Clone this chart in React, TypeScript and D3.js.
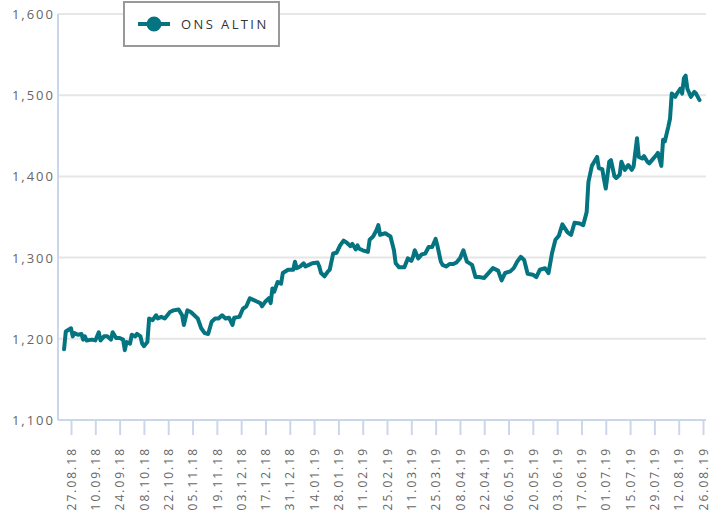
import { useEffect, useRef } from "react";
import * as d3 from "d3";

// Day offsets from 27.08.18 and the gold price
const START = new Date(2018, 7, 27);

const DAYS = [
  -4, -3, 0, 1, 2, 4, 6, 7, 8, 9,
  12, 14, 16, 17, 19, 21, 23, 24, 26, 28,
  30, 31, 32, 34, 35, 37, 38, 40, 41, 42,
  44, 45, 47, 49, 50, 52, 54, 57, 59, 62,
  64, 65, 67, 69, 71, 73, 75, 77, 79, 81,
  83, 85, 87, 89, 91, 93, 94, 97, 99, 101,
  103, 105, 107, 109, 110, 112, 114, 115, 116, 117,
  119, 121, 122, 125, 128, 129, 130, 132, 134, 135,
  137, 139, 142, 143, 144, 146, 148, 149, 151, 153,
  155, 157, 159, 161, 162, 164, 165, 166, 168, 171,
  172, 174, 176, 177, 178, 181, 184, 186, 187, 189,
  192, 194, 196, 197, 198, 200, 202, 204, 206, 208,
  210, 211, 213, 214, 216, 218, 220, 222, 224, 226,
  228, 231, 233, 235, 238, 243, 246, 248, 250, 253,
  255, 257, 259, 261, 263, 266, 268, 270, 273, 275,
  277, 279, 281, 283, 286, 288, 290, 293, 295, 297,
  298, 300, 303, 304, 306, 307, 308, 310, 311, 313,
  314, 316, 317, 319, 321, 323, 324, 326, 327, 329,
  330, 332, 333, 335, 337, 338, 340, 341, 342, 344,
  345, 346, 348, 349, 351, 352, 353, 354, 355, 357,
  359, 360, 362,
];

const PRICES = [
  1187, 1209, 1213, 1203, 1207, 1205, 1206, 1199, 1203, 1198,
  1199, 1198, 1208, 1198, 1203, 1203, 1199, 1208, 1201, 1201,
  1199, 1186, 1196, 1194, 1205, 1203, 1206, 1203, 1194, 1191,
  1196, 1225, 1223, 1229, 1225, 1227, 1225, 1233, 1235, 1236,
  1229, 1217, 1235, 1233, 1229, 1225, 1213, 1207, 1206, 1221,
  1225, 1225, 1229, 1225, 1226, 1217, 1226, 1227, 1237, 1240,
  1250, 1248, 1246, 1244, 1240, 1246, 1250, 1244, 1262, 1258,
  1270, 1268, 1281, 1285, 1285, 1295, 1287, 1289, 1293, 1289,
  1291, 1293, 1294, 1289, 1281, 1277, 1283, 1285, 1305, 1306,
  1315, 1321, 1318, 1314, 1317, 1310, 1315, 1311, 1309, 1307,
  1322, 1326, 1334, 1340, 1328, 1330, 1326, 1309, 1293, 1288,
  1288, 1299, 1296, 1301, 1309, 1299, 1304, 1305, 1313, 1313,
  1323, 1315, 1295, 1291, 1289, 1292, 1292, 1294, 1299, 1309,
  1295, 1291, 1276, 1276, 1275, 1287, 1284, 1272, 1281, 1283,
  1287, 1295, 1301, 1297, 1280, 1279, 1276, 1285, 1287, 1281,
  1305, 1322, 1327, 1341, 1331, 1328, 1343, 1342, 1340, 1356,
  1393, 1413, 1424, 1410, 1409, 1396, 1385, 1418, 1420, 1400,
  1398, 1402, 1418, 1408, 1414, 1408, 1412, 1447, 1424, 1422,
  1425, 1418, 1416, 1421, 1426, 1429, 1413, 1445, 1443, 1461,
  1471, 1502, 1498, 1502, 1508, 1502, 1521, 1524, 1508, 1498,
  1504, 1502, 1494,
];

const X_TICK_LABELS = [
  "27.08.18", "10.09.18", "24.09.18", "08.10.18", "22.10.18", "05.11.18",
  "19.11.18", "03.12.18", "17.12.18", "31.12.18", "14.01.19", "28.01.19",
  "11.02.19", "25.02.19", "11.03.19", "25.03.19", "08.04.19", "22.04.19",
  "06.05.19", "20.05.19", "03.06.19", "17.06.19", "01.07.19", "15.07.19",
  "29.07.19", "12.08.19", "26.08.19",
];

const Y_TICKS = [1100, 1200, 1300, 1400, 1500, 1600];

const SERIES_NAME = "ONS ALTIN";
const LINE_COLOR = "#047481";
const FONT = "'Open Sans', 'DejaVu Sans', sans-serif";

export default function App() {
  const svgRef = useRef<SVGSVGElement | null>(null);

  useEffect(() => {
    const width = 726;
    const height = 522;
    const plotLeft = 58;
    const plotRight = 706;

    const parse = d3.timeParse("%d.%m.%y");
    const tickDates = X_TICK_LABELS.map((s) => parse(s) as Date);
    const data = DAYS.map((d, i) => ({
      date: d3.timeDay.offset(START, d),
      value: PRICES[i],
    }));

    const svg = d3.select(svgRef.current);
    svg.selectAll("*").remove();
    svg.attr("width", width).attr("height", height);

    // ----- Scales -----
    const xScale = d3.scaleTime()
      .domain([tickDates[0], tickDates[tickDates.length - 1]])
      .range([71, 703]);

    const yScale = d3.scaleLinear()
      .domain([1100, 1600])
      .range([420, 14]);

    // ----- Grid lines -----
    svg.append("g")
      .selectAll("line")
      .data(Y_TICKS.slice(1))
      .join("line")
      .attr("x1", plotLeft).attr("x2", plotRight)
      .attr("y1", (d) => yScale(d)).attr("y2", (d) => yScale(d))
      .attr("stroke", "#e6e6e6")
      .attr("stroke-width", 2);

    // ----- Y axis -----
    svg.append("line")
      .attr("x1", plotLeft).attr("x2", plotLeft)
      .attr("y1", yScale(1600)).attr("y2", yScale(1100))
      .attr("stroke", "#ccd6eb")
      .attr("stroke-width", 2);

    svg.append("g")
      .selectAll("text")
      .data(Y_TICKS)
      .join("text")
      .attr("x", 55)
      .attr("y", (d) => yScale(d) + 5)
      .attr("text-anchor", "end")
      .attr("font-family", FONT)
      .attr("font-size", "13px")
      .attr("letter-spacing", "2px")
      .attr("fill", "#666666")
      .text((d) => d3.format(",")(d));

    // ----- X axis -----
    const xAxis = d3.axisBottom(xScale)
      .tickValues(tickDates)
      .tickSize(15)
      .tickSizeOuter(0)
      .tickFormat((d) => d3.timeFormat("%d.%m.%y")(d as Date));

    const xAxisG = svg.append("g")
      .attr("transform", `translate(0,${yScale(1100)})`)
      .call(xAxis);
    xAxisG.select(".domain").remove();
    xAxisG.selectAll(".tick line")
      .attr("stroke", "#ccd6eb")
      .attr("stroke-width", 2);
    xAxisG.selectAll(".tick text")
      .attr("transform", "rotate(-90)")
      .attr("text-anchor", "end")
      .attr("x", -27)
      .attr("y", 0)
      .attr("dy", "0.35em")
      .attr("font-family", FONT)
      .attr("font-size", "12px")
      .attr("letter-spacing", "2px")
      .attr("fill", "#666666");

    svg.append("line")
      .attr("x1", plotLeft).attr("x2", plotRight)
      .attr("y1", yScale(1100)).attr("y2", yScale(1100))
      .attr("stroke", "#ccd6eb")
      .attr("stroke-width", 2);

    // ----- Price line -----
    const lineGen = d3.line<{ date: Date; value: number }>()
      .x((d) => xScale(d.date))
      .y((d) => yScale(d.value));

    svg.append("path")
      .datum(data)
      .attr("fill", "none")
      .attr("stroke", LINE_COLOR)
      .attr("stroke-width", 4)
      .attr("stroke-linejoin", "round")
      .attr("stroke-linecap", "round")
      .attr("d", lineGen);

    // ----- Legend -----
    const legend = svg.append("g").attr("transform", "translate(124,2)");
    legend.append("rect")
      .attr("width", 155).attr("height", 44)
      .attr("fill", "#ffffff")
      .attr("stroke", "#999999")
      .attr("stroke-width", 2);
    legend.append("line")
      .attr("x1", 14).attr("x2", 46)
      .attr("y1", 22).attr("y2", 22)
      .attr("stroke", LINE_COLOR)
      .attr("stroke-width", 4);
    legend.append("circle")
      .attr("cx", 30).attr("cy", 22).attr("r", 7.5)
      .attr("fill", LINE_COLOR);
    legend.append("text")
      .attr("x", 57).attr("y", 27)
      .attr("font-family", FONT)
      .attr("font-size", "13px")
      .attr("letter-spacing", "2.4px")
      .attr("fill", "#333333")
      .text(SERIES_NAME);
  }, []);

  return (
    <svg
      ref={svgRef}
      style={{ position: "absolute", left: 0, top: 0, display: "block" }}
    ></svg>
  );
}
